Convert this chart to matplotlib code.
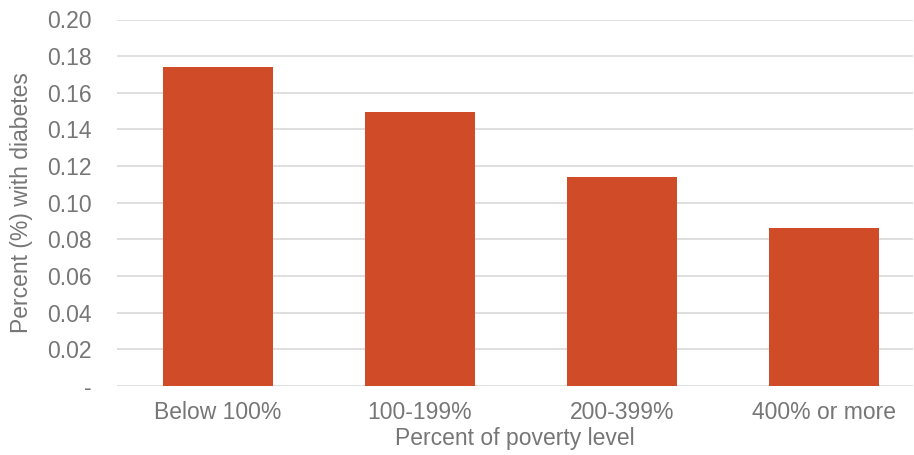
import matplotlib.pyplot as plt
import numpy as np

plt.rcParams['font.family'] = ['Liberation Sans', 'DejaVu Sans']

categories = ['Below 100%', '100-199%', '200-399%', '400% or more']
values = [0.174, 0.1495, 0.114, 0.086]
yticks = [0, 0.02, 0.04, 0.06, 0.08, 0.10, 0.12, 0.14, 0.16, 0.18, 0.20]
ytick_labels = ['-', '0.02', '0.04', '0.06', '0.08', '0.10', '0.12', '0.14', '0.16', '0.18', '0.20']

grey = '#767676'

fig = plt.figure(figsize=(9.14, 4.55), dpi=100)
ax = fig.add_axes([117 / 914, 1 - 386 / 455, 796 / 914, 366.5 / 455])

x = np.arange(len(categories))
ax.bar(x, values, width=0.545, color='#D04B27', zorder=3)

ax.set_xlim(-0.5, -0.5 + 796 / 202)
ax.set_ylim(0, 0.20)
ax.set_yticks(yticks)
ax.set_yticklabels(ytick_labels)
ax.set_xticks(x)
ax.set_xticklabels(categories)

ax.grid(axis='y', color='#D9D9D9', linewidth=1.2, zorder=0)
for s in ax.spines.values():
    s.set_visible(False)
ax.tick_params(length=0, labelsize=16.5, labelcolor=grey)
ax.tick_params(axis='y', pad=18)
ax.tick_params(axis='x', pad=11)

ax.set_ylabel('Percent (%) with diabetes', fontsize=16.5, color=grey, labelpad=10)
ax.set_xlabel('Percent of poverty level', fontsize=16.5, color=grey, labelpad=2)

fig.savefig('out.png', dpi=100)
